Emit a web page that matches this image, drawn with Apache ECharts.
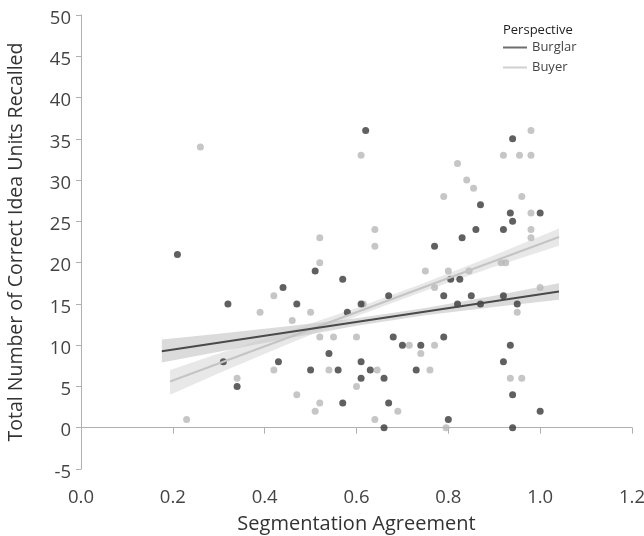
<!DOCTYPE html>
<html>
<head>
<meta charset="utf-8">
<script src="https://cdn.jsdelivr.net/npm/echarts@6/dist/echarts.min.js"></script>
<style>
  html, body { margin: 0; padding: 0; background: #fff; }
  #chart { width: 644px; height: 536px; }
</style>
</head>
<body>
<div id="chart"></div>
<script>
// Segmentation agreement (x) vs. correct idea units recalled (y), per perspective
const burglarPoints = [
  [0.21, 21], [0.62, 36], [0.51, 19], [0.57, 18], [0.44, 17], [0.32, 15], [0.47, 15],
  [0.61, 15], [0.58, 14], [0.54, 9], [0.31, 8], [0.43, 8], [0.50, 7], [0.56, 7],
  [0.61, 8], [0.63, 7], [0.61, 6], [0.34, 5], [0.57, 3], [0.94, 35], [0.87, 27],
  [0.935, 26], [1.00, 26], [0.94, 25], [0.86, 24], [0.92, 24], [0.83, 23], [0.77, 22],
  [0.805, 18], [0.825, 18], [0.67, 16], [0.79, 16], [0.85, 16], [0.92, 16], [0.82, 15],
  [0.87, 15], [0.95, 15], [0.68, 11], [0.79, 11], [0.70, 10], [0.74, 10], [0.935, 10],
  [0.92, 8], [0.73, 7], [0.66, 6], [0.94, 4], [0.67, 3], [0.66, 0], [0.80, 1],
  [0.94, 0], [1.00, 2]
];
const buyerPoints = [
  [0.26, 34], [0.61, 33], [0.52, 23], [0.52, 20], [0.42, 16], [0.615, 15], [0.39, 14],
  [0.50, 14], [0.46, 13], [0.52, 11], [0.55, 11], [0.60, 11], [0.42, 7], [0.54, 7],
  [0.34, 6], [0.60, 5], [0.47, 4], [0.52, 3], [0.51, 2], [0.23, 1], [0.98, 36],
  [0.92, 33], [0.955, 33], [0.98, 33], [0.82, 32], [0.84, 30], [0.855, 29], [0.79, 28],
  [0.96, 28], [0.98, 26], [0.64, 24], [0.98, 24], [0.98, 23], [0.64, 22], [0.915, 20],
  [0.925, 20], [0.75, 19], [0.80, 19], [0.845, 19], [0.77, 17], [1.00, 17], [0.95, 14],
  [0.715, 10], [0.77, 10], [0.74, 9], [0.645, 7], [0.76, 7], [0.935, 6], [0.96, 6],
  [0.69, 2], [0.64, 1], [0.795, 0]
];

// Fitted regression lines (end points) and their confidence bands
const burglarFit = [[0.176, 9.27], [1.041, 16.5]];
const buyerFit = [[0.194, 5.6], [1.041, 23.1]];

const burglarBandX = [0.176, 0.3, 0.45, 0.6, 0.75, 0.9, 1.041];
const burglarBandLow = [7.9, 9.2, 10.8, 12.35, 13.64, 14.64, 15.5];
const burglarBandHigh = [10.7, 11.4, 12.3, 13.27, 14.5, 16.0, 17.5];

const buyerBandX = [0.194, 0.3, 0.45, 0.6, 0.75, 0.9, 1.041];
const buyerBandLow = [4.0, 6.6, 10.1, 13.5, 16.6, 19.5, 22.05];
const buyerBandHigh = [7.0, 9.0, 11.7, 14.5, 17.6, 20.9, 24.15];

const xTicks = { min: 0, max: 1.2, step: 0.2 };
const yTicks = { min: -5, max: 50, step: 5 };

const FONT = '"Open Sans", "Noto Sans", sans-serif';

function bandSeries(name, xs, lows, highs, color) {
  return {
    name: name,
    type: 'custom',
    silent: true,
    z: 1,
    data: [0],
    renderItem: function (params, api) {
      const pts = [];
      for (let i = 0; i < xs.length; i++) pts.push(api.coord([xs[i], highs[i]]));
      for (let i = xs.length - 1; i >= 0; i--) pts.push(api.coord([xs[i], lows[i]]));
      return {
        type: 'polygon',
        shape: { points: pts },
        style: { fill: color }
      };
    }
  };
}

const chart = echarts.init(document.getElementById('chart'), null, { renderer: 'canvas' });

chart.setOption({
  animation: false,
  backgroundColor: '#ffffff',
  grid: {
    left: 81, right: 12, top: 15, bottom: 67,
    containLabel: false,
    outerBoundsMode: 'none'
  },
  title: {
    text: 'Perspective',
    left: 498,
    top: 19,
    textStyle: { fontFamily: FONT, fontSize: 13, lineHeight: 13, fontWeight: 'normal', color: '#222' }
  },
  legend: {
    orient: 'vertical',
    left: 498,
    top: 36,
    itemWidth: 24,
    itemHeight: 2,
    itemGap: 7,
    textStyle: { fontFamily: FONT, fontSize: 13, lineHeight: 13, color: '#444' },
    data: [
      { name: 'Burglar', icon: 'rect', itemStyle: { color: '#4a4a4a' } },
      { name: 'Buyer', icon: 'rect', itemStyle: { color: '#c4c4c4' } }
    ]
  },
  xAxis: {
    type: 'value',
    min: xTicks.min,
    max: xTicks.max,
    interval: xTicks.step,
    name: 'Segmentation Agreement',
    nameLocation: 'middle',
    nameGap: 45,
    nameTextStyle: { fontFamily: FONT, fontSize: 20, color: '#333' },
    axisLine: { show: true, lineStyle: { color: '#b0b0b0', width: 1 } },
    axisTick: { show: true, length: 6, lineStyle: { color: '#b0b0b0' } },
    axisLabel: {
      fontFamily: FONT, fontSize: 18.5, color: '#444', margin: 19,
      formatter: function (v) { return v.toFixed(1); }
    },
    splitLine: { show: false }
  },
  yAxis: {
    type: 'value',
    min: yTicks.min,
    max: yTicks.max,
    interval: yTicks.step,
    name: 'Total Number of Correct Idea Units Recalled',
    nameLocation: 'middle',
    nameGap: 55,
    nameTextStyle: { fontFamily: FONT, fontSize: 19.5, color: '#333' },
    axisLine: { show: true, lineStyle: { color: '#b0b0b0', width: 1 } },
    axisTick: { show: true, length: 5, lineStyle: { color: '#b0b0b0' } },
    axisLabel: {
      margin: 10,
      formatter: function (v) { return '{t|' + v + '}'; },
      rich: {
        t: { fontFamily: FONT, fontSize: 18.5, color: '#444', padding: [7, 0, 0, 0] }
      }
    },
    splitLine: { show: false }
  },
  series: [
    bandSeries('Burglar band', burglarBandX, burglarBandLow, burglarBandHigh, 'rgba(175,175,175,0.45)'),
    bandSeries('Buyer band', buyerBandX, buyerBandLow, buyerBandHigh, 'rgba(205,205,205,0.45)'),
    {
      name: 'Buyer',
      type: 'scatter',
      symbolSize: 7,
      z: 2,
      itemStyle: { color: '#b8b8b8' },
      data: buyerPoints
    },
    {
      name: 'Burglar',
      type: 'scatter',
      symbolSize: 7,
      z: 3,
      itemStyle: { color: '#383838' },
      data: burglarPoints
    },
    {
      name: 'Buyer',
      type: 'line',
      z: 4,
      symbol: 'none',
      lineStyle: { color: '#c4c4c4', width: 2 },
      data: buyerFit
    },
    {
      name: 'Burglar',
      type: 'line',
      z: 5,
      symbol: 'none',
      lineStyle: { color: '#4a4a4a', width: 2 },
      data: burglarFit
    }
  ]
});
</script>
</body>
</html>
